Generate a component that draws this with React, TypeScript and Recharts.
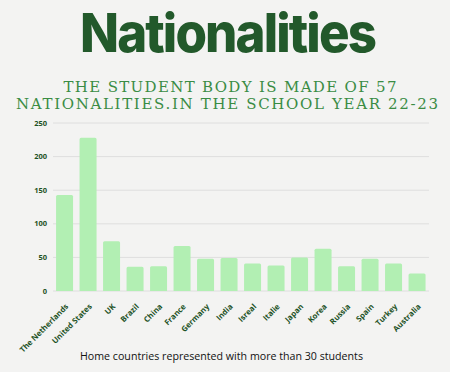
import React from "react";
import { BarChart, Bar, XAxis, YAxis, CartesianGrid } from "recharts";

const countries = [
  "The Netherlands", "United States", "UK", "Brazil", "China", "France", "Germany", "India",
  "Isreal", "Italie", "Japan", "Korea", "Russia", "Spain", "Turkey", "Australia",
];
const students = [143, 228, 74, 36, 37, 67, 48, 49, 41, 38, 50, 63, 37, 48, 41, 26];
const yTicks = [0, 50, 100, 150, 200, 250];

const title = "Nationalities";
const subtitle1 = "THE STUDENT BODY IS MADE OF 57";
const subtitle2 = "NATIONALITIES.IN THE SCHOOL YEAR 22-23";
const footer = "Home countries represented with more than 30 students";

const data = countries.map((c, i) => ({ country: c, students: students[i] }));

const DARK = "#1d5226";
const XTick = (props: any) => {
  const { x, y, payload } = props;
  return (
    <g transform={`translate(${x + 2},${y + 6})`}>
      <text
        transform="rotate(-45)"
        textAnchor="end"
        fontSize={7.8}
        fontWeight={700}
        fill={DARK}
        fontFamily="'Open Sans', sans-serif"
        dy={3}
      >
        {payload.value}
      </text>
    </g>
  );
};

export default function App() {
  return (
    <div
      style={{
        position: "fixed",
        left: 0,
        top: 0,
        width: 450,
        height: 372,
        background: "#f3f3f2",
        overflow: "hidden",
      }}
    >
      <svg width={450} height={372} style={{ position: "absolute", left: 0, top: 0 }}>
        <text
          x={227.5}
          y={52}
          textAnchor="middle"
          fontFamily="Inter, sans-serif"
          fontWeight={800}
          fontSize={54}
          letterSpacing={-2}
          fill="#22592b"
          textLength={295}
          lengthAdjust="spacingAndGlyphs"
        >
          {title}
        </text>
        <text
          x={230}
          y={92.3}
          textAnchor="middle"
          fontFamily="'DejaVu Serif', serif"
          fontSize={15}
          fill="#3a8c44"
          textLength={333}
          lengthAdjust="spacing"
        >
          {subtitle1}
        </text>
        <text
          x={227}
          y={109}
          textAnchor="middle"
          fontFamily="'DejaVu Serif', serif"
          fontSize={15}
          fill="#3a8c44"
          textLength={422}
          lengthAdjust="spacing"
        >
          {subtitle2}
        </text>
        <text
          x={221.5}
          y={360}
          textAnchor="middle"
          fontFamily="'Open Sans', sans-serif"
          fontSize={10.5}
          fill="#111"
          textLength={283}
          lengthAdjust="spacingAndGlyphs"
        >
          {footer}
        </text>
      </svg>
      <div style={{ position: "absolute", left: 0, top: 0 }}>
        <BarChart
          width={450}
          height={372}
          data={data}
          margin={{ top: 123, right: 21, left: 23, bottom: 21 }}
          barCategoryGap="13%"
        >
          <CartesianGrid vertical={false} stroke="#dedede" strokeWidth={1} />
          <XAxis
            dataKey="country"
            interval={0}
            height={60}
            axisLine={false}
            tickLine={false}
            tick={<XTick />}
          />
          <YAxis
            width={30}
            domain={[0, 250]}
            ticks={yTicks}
            axisLine={false}
            tickLine={false}
            tickSize={0}
            tickMargin={6}
            tick={{ fontSize: 7.5, fontWeight: 700, fill: DARK, fontFamily: "'Open Sans', sans-serif" }}
          />
          <Bar dataKey="students" fill="#b2efb3" radius={[1.5, 1.5, 0, 0]} isAnimationActive={false} />
        </BarChart>
      </div>
    </div>
  );
}
